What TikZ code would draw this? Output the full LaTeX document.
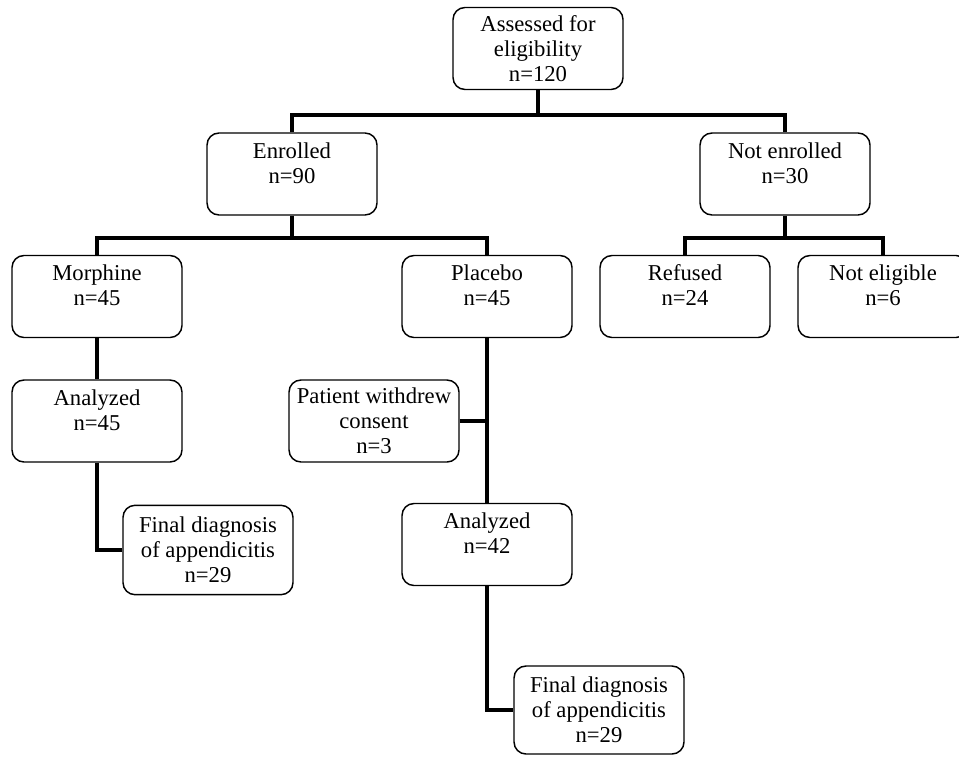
\documentclass[tikz,border=0pt]{standalone}
\usepackage{fontspec}
\setmainfont{Liberation Serif}
\usepackage{tikz}
\usetikzlibrary{calc}

\begin{document}
\begin{tikzpicture}[x=0.75pt,y=-0.75pt,
        box/.style={draw,line width=1.1pt,rounded corners=9pt,align=center,
            minimum width=127.5pt,minimum height=61.5pt,inner sep=3pt,
            font=\fontsize{17}{18.75}\selectfont},
        twoline/.style={text depth=17pt},
        link/.style={line width=3.6pt}]
    \useasboundingbox (0,0) rectangle (959,756);

    % boxes
    \node[box] (assess) at (538,48.5) {Assessed for\\eligibility\\n=120};
    \node[box,twoline] (enrolled) at (292,174) {Enrolled\\n=90};
    \node[box,twoline] (notenr) at (785,174) {Not enrolled\\n=30};
    \node[box,twoline] (morphine) at (97,296.5) {Morphine\\n=45};
    \node[box,twoline] (placebo) at (487,296.5) {Placebo\\n=45};
    \node[box,twoline] (refused) at (685,296.5) {Refused\\n=24};
    \node[box,twoline] (notelig) at (883,296.5) {Not eligible\\n=6};
    \node[box,twoline] (analyzedm) at (97,421) {Analyzed\\n=45};
    \node[box] (withdrew) at (374,421) {Patient withdrew\\consent\\n=3};
    \node[box,minimum height=67pt] (finalm) at (208,550) {Final diagnosis\\of appendicitis\\n=29};
    \node[box,twoline] (analyzedp) at (487,544.5) {Analyzed\\n=42};
    \node[box,minimum height=66pt] (finalp) at (599,710) {Final diagnosis\\of appendicitis\\n=29};

    % junctions
    \coordinate (j1) at (538,115);
    \coordinate (j2) at (292,238);
    \coordinate (j3) at (785,238);

    % links
    \draw[link] (assess) -- (j1);
    \draw[link] (enrolled.north) |- (j1) -| (notenr.north);
    \draw[link] (enrolled) -- (j2);
    \draw[link] (morphine.north) |- (j2) -| (placebo.north);
    \draw[link] (notenr) -- (j3);
    \draw[link] (refused.north) |- (j3) -| (notelig.north);
    \draw[link] (morphine) -- (analyzedm);
    \draw[link] (analyzedm.south) |- (finalm.west);
    \draw[link] (placebo) -- (analyzedp);
    \draw[link] (withdrew.east) -- (withdrew.east -| placebo.south);
    \draw[link] (analyzedp.south) |- (finalp.west);
\end{tikzpicture}
\end{document}
